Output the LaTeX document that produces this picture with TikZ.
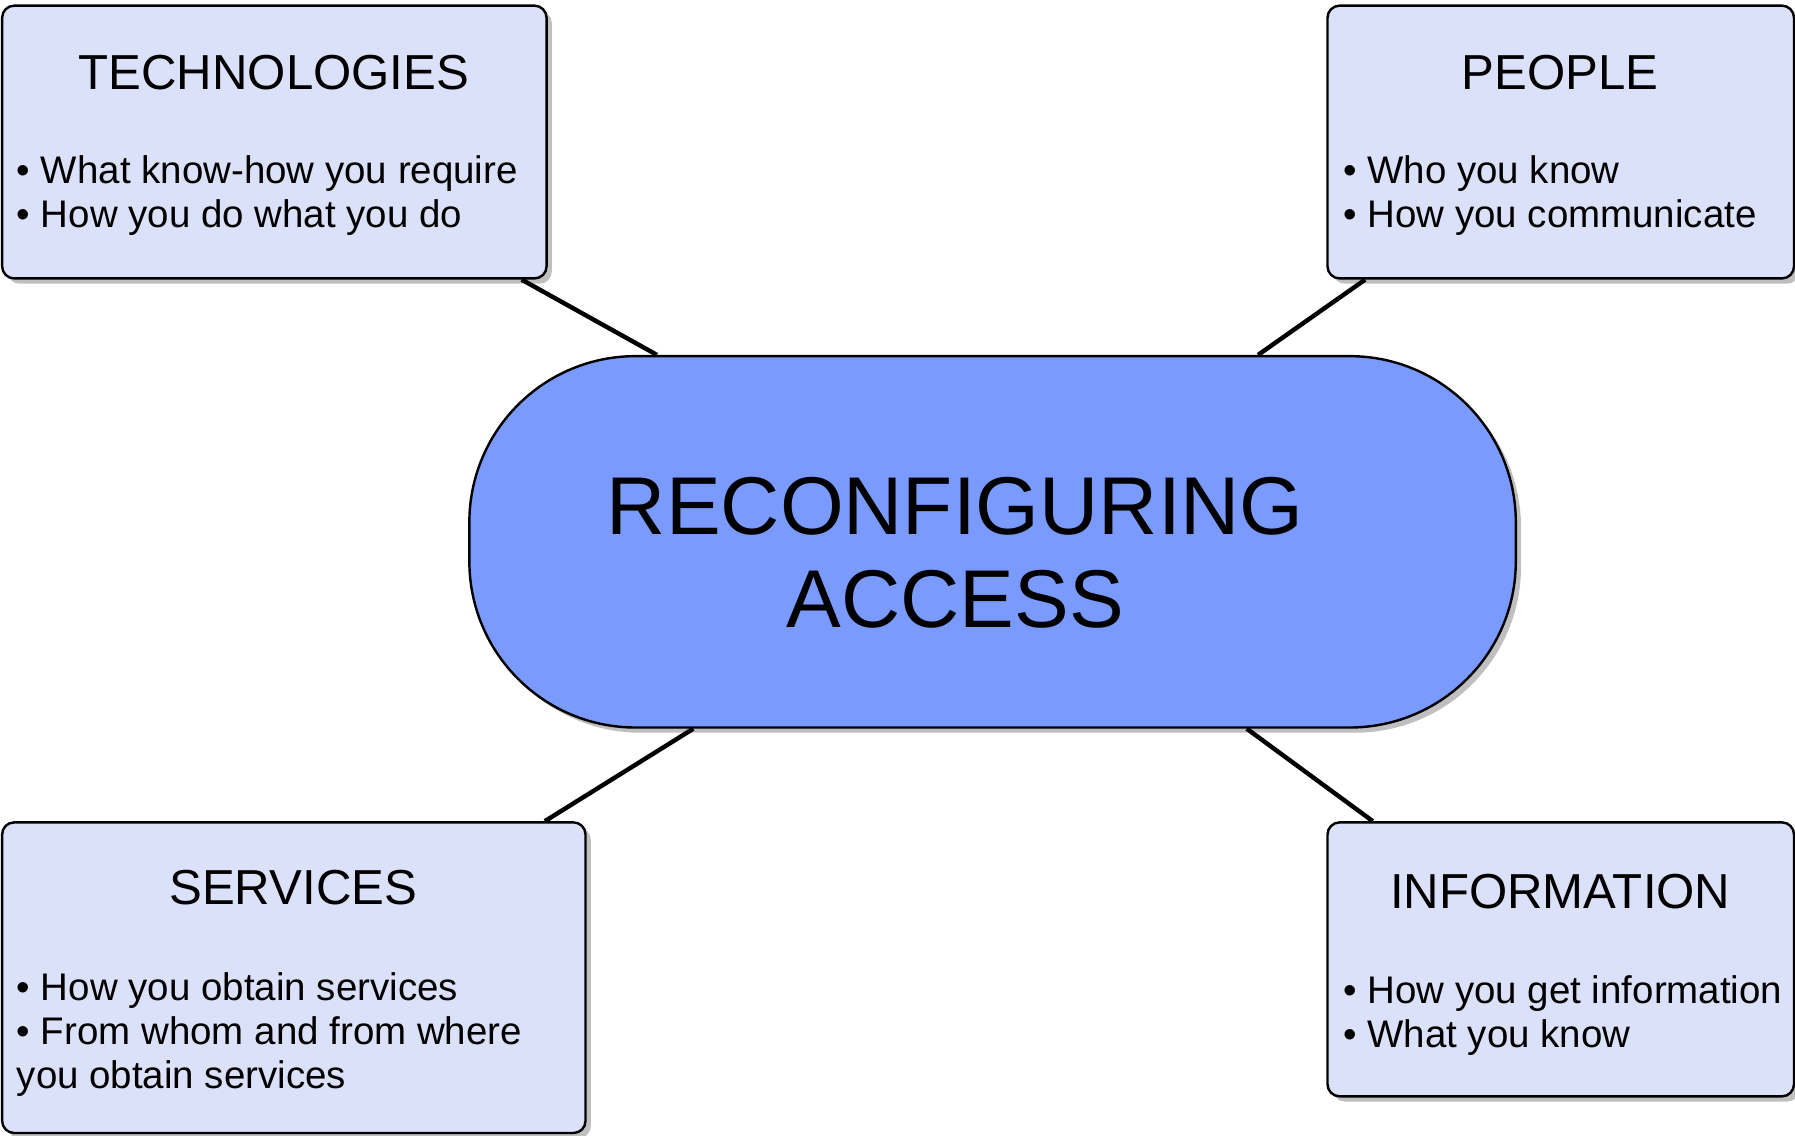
\documentclass[tikz,border=0pt]{standalone}
\usepackage{fontspec}
\setmainfont{Liberation Sans}
\usetikzlibrary{positioning,shadows}
\definecolor{boxfill}{HTML}{DCE1FA}
\definecolor{hubfill}{HTML}{7A9BFD}

\begin{document}
\begin{tikzpicture}[
		x=0.01cm, y=-0.01cm,
		topic/.style={
			draw,
			line width=0.6pt,
			rounded corners=3pt,
			fill=boxfill,
			inner sep=0,
			drop shadow={shadow xshift=1.3pt, shadow yshift=-1.3pt, opacity=.5}
		},
		hub/.style={
			draw,
			line width=0.6pt,
			rounded corners=1.45cm,
			fill=hubfill,
			inner sep=0,
			minimum width=9.13cm,
			minimum height=3.24cm,
			drop shadow={shadow xshift=1.3pt, shadow yshift=-1.3pt, opacity=.5}
		},
		title/.style={anchor=base, inner sep=0, font=\fontsize{12.2}{14}\selectfont},
		item/.style={anchor=base west, inner sep=0, font=\fontsize{9.55}{11}\selectfont},
		hubtext/.style={anchor=base, inner sep=0, font=\fontsize{20.35}{23}\selectfont},
		link/.style={line width=1.1pt}
		]
		\useasboundingbox (0,0) rectangle (1567,991);
		% Boxes
		\node[hub] (hub) at (866.5,473) {};
		\node[topic, minimum width=4.75cm, minimum height=2.38cm] (tech) at (239.5,124) {};
		\node[topic, minimum width=4.07cm, minimum height=2.38cm] (people) at (1362.5,124) {};
		\node[topic, minimum width=5.09cm, minimum height=2.71cm] (serv) at (256.5,853.5) {};
		\node[topic, minimum width=4.07cm, minimum height=2.39cm] (info) at (1362.5,837.5) {};
		% Box -> Hub
		\foreach \topicname in {tech,people,serv,info}
			\draw[link] (\topicname) -- (hub);
		% Hub text
		\node[hubtext] (recon) at (834,467) {RECONFIGURING};
		\node[hubtext] (access) at (834,548) {ACCESS};
		% Titles
		\node[title] (tech-t) at (239,78) {TECHNOLOGIES};
		\node[title] (people-t) at (1362,78) {PEOPLE};
		\node[title] (serv-t) at (256,790) {SERVICES};
		\node[title] (info-t) at (1362,793) {INFORMATION};
		% Items
		\foreach \txt [count=\i] in {• What know-how you require,• How you do what you do}
			\node[item] (tech-\i) at (14,{121+39*\i}) {\txt};
		\foreach \txt [count=\i] in {• Who you know,• How you communicate}
			\node[item] (people-\i) at (1172,{121+39*\i}) {\txt};
		\foreach \txt [count=\i] in {• How you obtain services,• From whom and from where,you obtain services}
			\node[item] (serv-\i) at (14,{835+38.5*\i}) {\txt};
		\foreach \txt [count=\i] in {• How you get information,• What you know}
			\node[item] (info-\i) at (1172,{838+38*\i}) {\txt};
	\end{tikzpicture}
\end{document}
